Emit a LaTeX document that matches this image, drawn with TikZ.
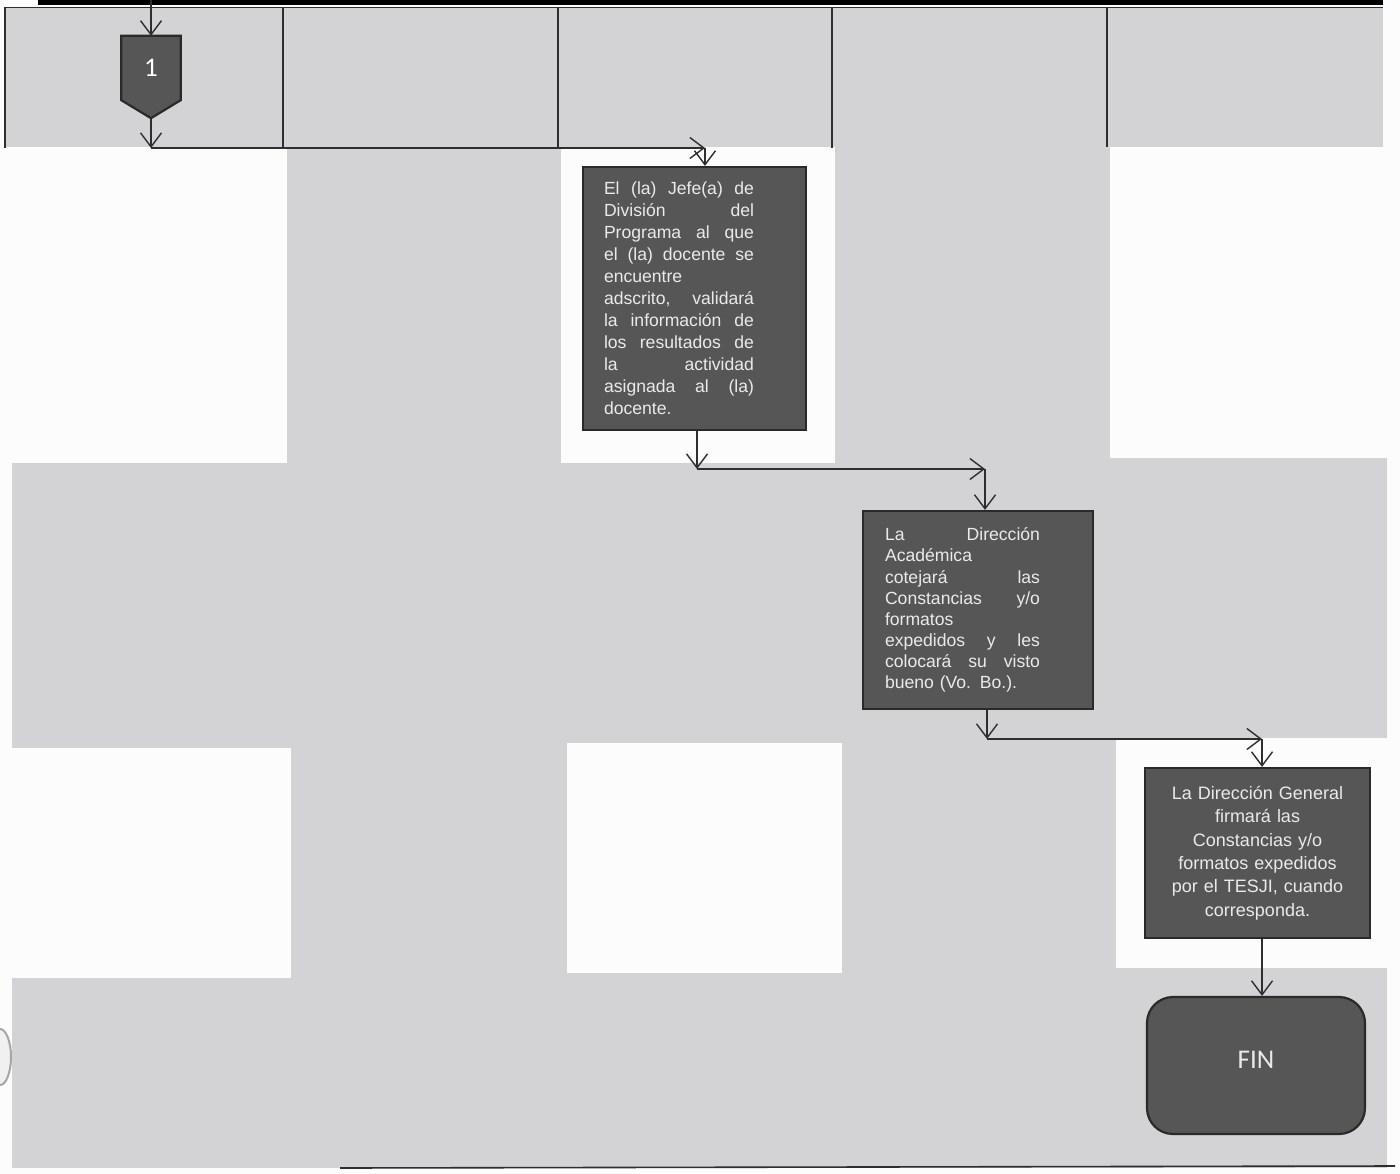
\documentclass[tikz,border=0pt]{standalone}
\usepackage{fontspec}
\setmainfont{Liberation Sans}
\newfontfamily\calib{Carlito}
\usetikzlibrary{arrows.meta,calc}
\pgfdeclarelayer{bg}
\pgfdeclarelayer{mid}
\pgfsetlayers{bg,mid,main}
\definecolor{paper}{HTML}{FCFCFC}
\definecolor{bggray}{HTML}{D3D3D5}
\definecolor{boxfill}{HTML}{565656}
\definecolor{boxline}{HTML}{2A2A2A}
\definecolor{boxtext}{HTML}{EAEAEA}
\definecolor{ink}{HTML}{2E2E2E}
\newcommand{\jl}[2]{\makebox[#1][s]{\spaceskip=\fontdimen2\font plus 1fil\relax #2}}
\begin{document}
\begin{tikzpicture}[x=1pt,y=-1pt,
  arr/.style={draw=ink, line width=1.4pt, -{Straight Barb[length=14pt,width=21pt,line width=1.4pt]}},
  hdrline/.style={draw=ink, line width=1.6pt},
  procbox/.style={draw=boxline, line width=2.2pt, fill=boxfill, text=boxtext, inner ysep=0pt},
  conn/.style={draw=none, inner sep=0pt, minimum width=59pt, minimum height=64pt, text=white, font=\calib\fontsize{27}{27}\selectfont},
  connshape/.style={draw=boxline, line width=2.2pt, fill=boxfill},
  endbox/.style={draw=boxline, line width=2.2pt, fill=boxfill, rounded corners=26pt, text=boxtext, minimum width=218pt, minimum height=137pt, inner sep=0pt, font=\calib\fontsize{27}{27}\selectfont}
]
\useasboundingbox (0,0) rectangle (1400,1174);

% ---------- nodes ----------
\node[conn] (c1) at (151,68) {1};
\coordinate (c1tip) at ($(c1.south)+(0,18)$);

\node[procbox, text width=181pt, inner xsep=21pt, minimum height=263pt, align=left,
      font=\fontsize{17.6}{22}\selectfont] (b1) at (694.5,298.5) {%
\jl{150pt}{El (la) Jefe(a) de}\\
\jl{150pt}{División del}\\
\jl{150pt}{Programa al que}\\
\jl{150pt}{el (la) docente se}\\
encuentre\\
\jl{150pt}{adscrito, validará}\\
\jl{150pt}{la información de}\\
\jl{150pt}{los resultados de}\\
\jl{150pt}{la actividad}\\
\jl{150pt}{asignada al (la)}\\
docente.};

\node[procbox, text width=186pt, inner xsep=22pt, minimum height=198pt, align=left,
      font=\fontsize{17.6}{21.1}\selectfont] (b2) at (978,610) {%
\jl{155pt}{La Dirección}\\
Académica\\
\jl{155pt}{cotejará las}\\
\jl{155pt}{Constancias y/o}\\
formatos\\
\jl{155pt}{expedidos y les}\\
\jl{155pt}{colocará su visto}\\
bueno (Vo. Bo.).};

\node[procbox, text width=190pt, inner xsep=17.5pt, minimum height=170pt, align=center,
      font=\fontsize{18}{23.4}\selectfont] (b3) at (1257.5,853) {%
La Dirección General\\
firmará las\\
Constancias y/o\\
formatos expedidos\\
por el TESJI, cuando\\
corresponda.};

\node[endbox] (fin) at (1256,1065.5) {\raisebox{12pt}{FIN}};

% ---------- background ----------
\begin{pgfonlayer}{bg}
  \fill[paper] (0,0) rectangle (1400,1174);
  \fill[bggray] (12,147) rectangle (1387,1168);
  \fill[paper] (0,147) rectangle (287,463);
  \fill[paper] (561,147) rectangle (835,463);
  \fill[paper] (1110,147) rectangle (1400,458);
  \fill[paper] (0,748) rectangle (291,978);
  \fill[paper] (567,743) rectangle (842,973);
  \fill[paper] (1116,738) rectangle (1400,968);
  % header row
  \fill[bggray] (5,7) rectangle (1383,147);
  \draw[draw=ink, line width=0.8pt] (5,7) -- (1383,7);
  \draw[draw=black, line width=5pt] (38,2.5) -- (1383,2.5);
  \draw[hdrline] (5,7) -- (5,148);
  \draw[hdrline] (283,7) -- (283,148);
  \draw[hdrline] (558,7) -- (558,148);
  \draw[hdrline] (832,7) -- (832,148);
  \draw[hdrline] (1107,7) -- (1107,147);
  % bottom edge
  \draw[draw=ink, line width=1.6pt] (340,1168) -- (1395,1166);
  % punch hole shadow
  \draw[draw=gray!70, line width=2pt, fill=gray!12] (0,1057) ellipse (11pt and 28pt);
\end{pgfonlayer}

\begin{pgfonlayer}{mid}
  \path[connshape] (c1.north west) -- (c1.north east) -- (c1.south east) -- (c1tip) -- (c1.south west) -- cycle;
\end{pgfonlayer}

% ---------- connectors ----------
\coordinate (top) at (c1.north |- 0,0);
\draw[arr] (top) -- (c1.north);
\coordinate (k0) at (c1tip |- 0,148);
\draw[arr] (c1tip) -- (k0);
\coordinate (k1) at (705,148);
\draw[arr] (k0) -- (k1);
\draw[arr] (k1) -- (k1 |- b1.north);

\coordinate (k2) at (697,469);
\draw[arr] (k2 |- b1.south) -- (k2);
\coordinate (k3) at (985,469);
\draw[arr] (k2) -- (k3);
\draw[arr] (k3) -- (k3 |- b2.north);

\coordinate (k4) at (987,739);
\draw[arr] (k4 |- b2.south) -- (k4);
\coordinate (k5) at (1262,739);
\draw[arr] (k4) -- (k5);
\draw[arr] (k5) -- (k5 |- b3.north);

\draw[arr] (k5 |- b3.south) -- (k5 |- fin.north);
\end{tikzpicture}
\end{document}
